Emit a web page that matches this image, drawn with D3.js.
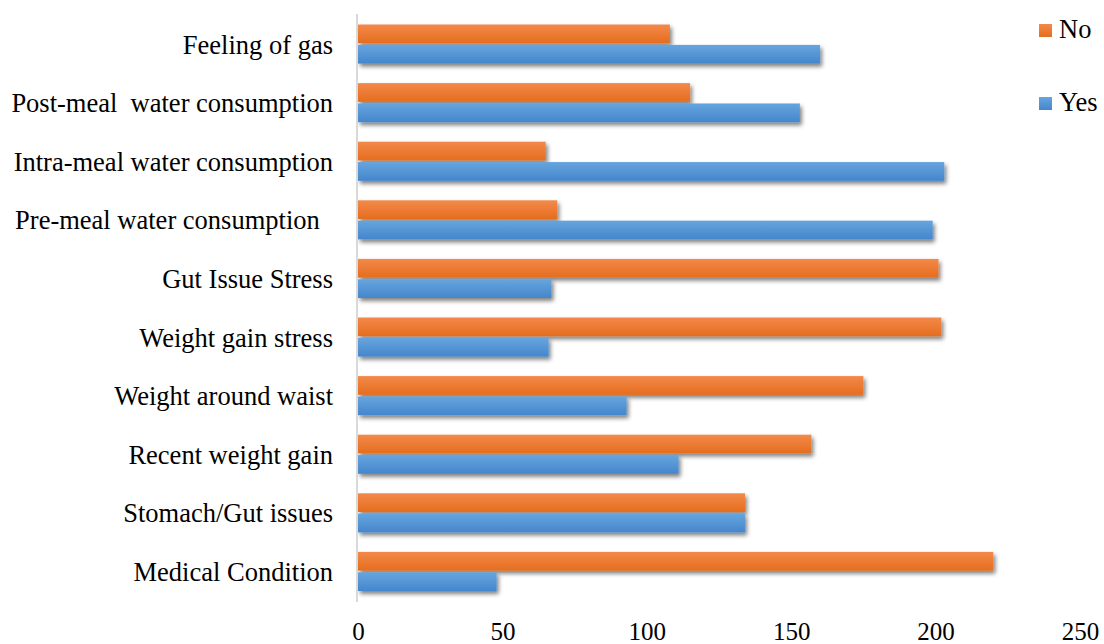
<!DOCTYPE html>
<html>
<head>
<meta charset="utf-8">
<script src="https://cdn.jsdelivr.net/npm/d3@7"></script>
<style>
  body { margin: 0; background: #fff; }
  svg text { font-family: 'Liberation Serif', 'Times New Roman', serif; fill: #000; }
</style>
</head>
<body>
<svg id="chart"></svg>
<script>
// categories, top to bottom as in the picture
const categories = [
  "Feeling of gas",
  "Post-meal  water consumption",
  "Intra-meal water consumption",
  "Pre-meal water consumption  ",
  "Gut Issue Stress",
  "Weight gain stress",
  "Weight around waist",
  "Recent weight gain",
  "Stomach/Gut issues",
  "Medical Condition"
];
const noValues = [108, 115, 65, 69, 201, 202, 175, 157, 134, 220];
const yesValues = [160, 153, 203, 199, 67, 66, 93, 111, 134, 48];
const xTicks = [0, 50, 100, 150, 200, 250];
const seriesNames = ["No", "Yes"];

const width = 1104, height = 644;
const margin = { top: 14, right: 24, bottom: 44, left: 358 };

const svg = d3.select("#chart").attr("width", width).attr("height", height);
const defs = svg.append("defs");

const grad = (id, top, bottom) => {
  const g = defs.append("linearGradient").attr("id", id)
    .attr("x1", 0).attr("y1", 0).attr("x2", 0).attr("y2", 1);
  g.append("stop").attr("offset", "0%").attr("stop-color", top);
  g.append("stop").attr("offset", "100%").attr("stop-color", bottom);
};
grad("gNo", "#f3894a", "#e56d1e");
grad("gYes", "#66a5de", "#4586cc");

const shadow = defs.append("filter").attr("id", "shadow")
  .attr("x", "-5%").attr("y", "-30%").attr("width", "115%").attr("height", "180%");
shadow.append("feGaussianBlur").attr("in", "SourceAlpha").attr("stdDeviation", 2);
shadow.append("feOffset").attr("dx", 2).attr("dy", 3).attr("result", "off");
shadow.append("feComponentTransfer").append("feFuncA").attr("type", "linear").attr("slope", 0.5);
const merge = shadow.append("feMerge");
merge.append("feMergeNode");
merge.append("feMergeNode").attr("in", "SourceGraphic");

const x = d3.scaleLinear().domain([0, 250])
  .range([margin.left, margin.left + 722]);
const y = d3.scaleBand().domain(categories)
  .range([margin.top + 1, 601]).paddingInner(0).paddingOuter(0);
const inner = d3.scaleBand().domain(seriesNames)
  .range([9.5, y.bandwidth() - 10]).paddingInner(0.08);

const rows = categories.map((c, i) => ({ c, No: noValues[i], Yes: yesValues[i] }));

const groups = svg.append("g").selectAll("g").data(rows).join("g")
  .attr("transform", d => `translate(0,${y(d.c)})`);

groups.selectAll("rect")
  .data(d => seriesNames.map(s => ({ s, v: d[s] })))
  .join("rect")
  .attr("x", x(0))
  .attr("y", d => inner(d.s))
  .attr("width", d => x(d.v) - x(0))
  .attr("height", inner.bandwidth())
  .attr("fill", d => d.s === "No" ? "url(#gNo)" : "url(#gYes)")
  .attr("filter", "url(#shadow)");

// vertical axis line
svg.append("line")
  .attr("x1", x(0) - 1).attr("x2", x(0) - 1)
  .attr("y1", margin.top).attr("y2", 602)
  .attr("stroke", "#d9d9d9").attr("stroke-width", 2);

// category labels
svg.append("g").selectAll("text").data(categories).join("text")
  .attr("x", 333)
  .attr("y", d => y(d) + y.bandwidth() / 2)
  .attr("dy", "0.35em")
  .attr("text-anchor", "end")
  .attr("xml:space", "preserve")
  .style("font-size", "26.5px")
  .style("white-space", "pre")
  .text(d => d);

// x tick labels
const xAxis = svg.append("g").attr("transform", "translate(0,640)")
  .call(d3.axisBottom(x).tickValues(xTicks).tickSize(0).tickPadding(0));
xAxis.select(".domain").remove();
xAxis.attr("font-family", null).attr("font-size", null);
xAxis.selectAll("text")
  .attr("y", 0)
  .attr("dy", 0)
  .style("font-size", "25px");

// legend
const legend = svg.append("g").attr("transform", "translate(1039,24)");
const items = legend.selectAll("g").data(seriesNames).join("g")
  .attr("transform", (d, i) => `translate(0,${i * 73})`);
items.append("rect").attr("width", 13).attr("height", 13)
  .attr("fill", d => d === "No" ? "url(#gNo)" : "url(#gYes)");
items.append("text").attr("x", 20).attr("y", 14)
  .style("font-size", "26.5px")
  .text(d => d);
</script>
</body>
</html>
